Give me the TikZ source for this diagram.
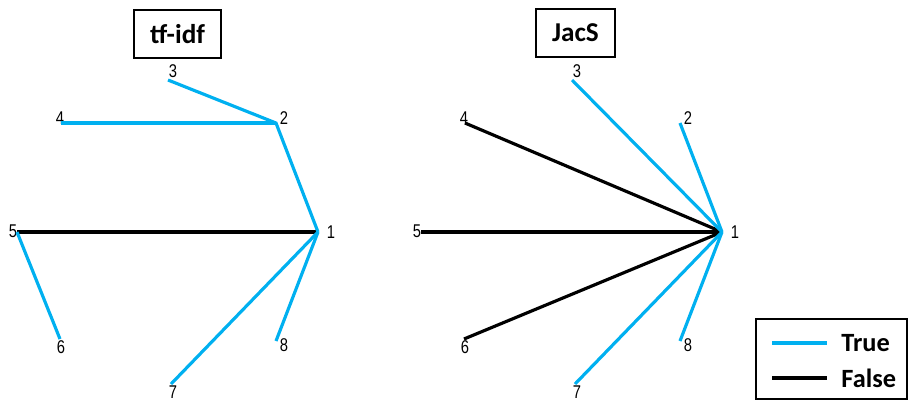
\documentclass[tikz,border=0pt]{standalone}
\usepackage{fontspec}
\setmainfont{Carlito}
\newfontfamily\numfont{Liberation Sans}
\usepackage{tikz}
\usetikzlibrary{positioning}

\definecolor{trueblue}{RGB}{0,176,240}

\begin{document}
\begin{tikzpicture}[
    x=0.02cm, y=-0.02cm,
    tru/.style={draw=trueblue, line width=1.8pt},
    fls/.style={draw=black, line width=1.8pt},
    num/.style={inner sep=0pt, xscale=0.8, transform shape,
        font=\numfont\fontsize{10.5}{11}\selectfont},
    title/.style={
        draw,
        line width=0.9pt,
        inner xsep=0.32cm,
        minimum height=0.96cm,
        font=\bfseries\fontsize{15.5}{17}\selectfont
    },
    legtxt/.style={anchor=west, inner sep=0pt, font=\bfseries\fontsize{15}{17}\selectfont}
]
\useasboundingbox (0,0) rectangle (908,400);

% titles
\node[title] (ttfidf) at (177.5,34) {tf-idf};
\node[title] (tjacs) at (575.5,33) {JacS};

% vertices of both graphs
\foreach \g/\sx in {L/0, R/404} {
  \foreach \n/\x/\y/\dx/\dy in {1/318/232/13/0, 2/276/123/8/-5, 3/168/80/5/-9,
      4/61/123/-1/-5, 5/17/232/-4/-1, 6/60/339/1/8, 7/171/384/2/8, 8/276/341/8/4} {
    \coordinate (\g\n) at (\x+\sx,\y);
    \node[num] (\g t\n) at (\x+\sx+\dx,\y+\dy) {\n};
  }
}

% tf-idf edges
\draw[fls] (L5) -- (L1);
\draw[tru] (L3) -- (L2) -- (L1);
\draw[tru] (L4) -- (L2);
\draw[tru] (L5) -- (L6);
\draw[tru] (L1) -- (L7);
\draw[tru] (L1) -- (L8);

% JacS edges, all into 1
\foreach \n in {4,5,6}
  \draw[fls] (R\n) -- (R1);
\foreach \n in {2,3,7,8}
  \draw[tru] (R\n) -- (R1);

% legend
\draw[line width=0.9pt] (756,319) rectangle (907,399);
\coordinate (ta) at (772,343);
\coordinate (tb) at (827,343);
\coordinate (fa) at (772,378);
\coordinate (fb) at (827,378);
\draw[tru] (ta) -- (tb);
\draw[fls] (fa) -- (fb);
\node[legtxt] (ltrue) at (841,343) {True};
\node[legtxt] (lfalse) at (841,378) {False};
\end{tikzpicture}
\end{document}
